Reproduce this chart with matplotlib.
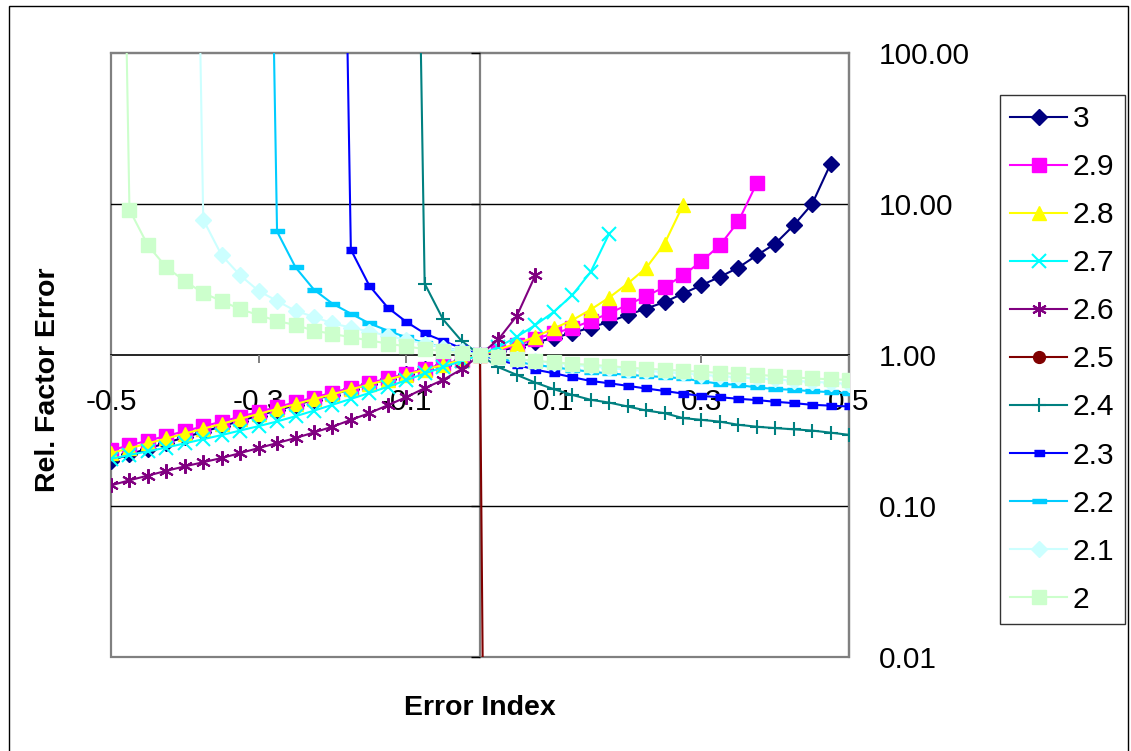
import numpy as np
import matplotlib
matplotlib.use("Agg")
import matplotlib.pyplot as plt
from matplotlib.patches import Rectangle
from matplotlib.ticker import NullLocator, FixedLocator, FixedFormatter

plt.rcParams['font.family'] = ['Liberation Sans', 'DejaVu Sans']

# ---------------- data ----------------
error_index = np.round(np.linspace(-0.5, 0.5, 41), 3)   # x grid, step 0.025
HUGE = 1e8      # off-chart value at the asymptote
TINY = 1e-14    # off-chart value (series 2.5)

series_names = ['3', '2.9', '2.8', '2.7', '2.6', '2.5', '2.4', '2.3', '2.2', '2.1', '2']
# index of first x value for every series
series_start = [0, 0, 0, 0, 0, 20, 16, 12, 8, 4, 0]

v_30 = [0.20, 0.22, 0.24, 0.262, 0.285, 0.31, 0.337, 0.366, 0.397, 0.43, 0.466, 0.505,
        0.547, 0.592, 0.64, 0.69, 0.745, 0.803, 0.865, 0.93, 1.0,
        1.06, 1.13, 1.21, 1.30, 1.40, 1.52, 1.66, 1.84, 2.03, 2.24, 2.55, 2.90, 3.29,
        3.79, 4.57, 5.46, 7.21, 10.0, 18.4]
v_29 = [0.234, 0.252, 0.271, 0.291, 0.313, 0.337, 0.362, 0.39, 0.42, 0.452, 0.486, 0.523,
        0.563, 0.605, 0.651, 0.70, 0.752, 0.808, 0.867, 0.931, 1.0,
        1.07, 1.17, 1.28, 1.39, 1.51, 1.68, 1.89, 2.15, 2.45, 2.82, 3.37, 4.17, 5.32,
        7.66, 13.7]
v_28 = [0.224, 0.241, 0.26, 0.28, 0.302, 0.325, 0.35, 0.378, 0.407, 0.439, 0.473, 0.51,
        0.55, 0.592, 0.638, 0.688, 0.741, 0.799, 0.861, 0.928, 1.0,
        1.09, 1.19, 1.32, 1.5, 1.70, 2.0, 2.40, 2.97, 3.77, 5.46, 9.8]
v_27 = [0.205, 0.218, 0.23, 0.244, 0.26, 0.277, 0.295, 0.316, 0.338, 0.363, 0.393, 0.428,
        0.468, 0.512, 0.56, 0.616, 0.68, 0.755, 0.83, 0.913, 1.0,
        1.13, 1.32, 1.58, 1.93, 2.49, 3.55, 6.36]
v_26 = [0.137, 0.148, 0.159, 0.171, 0.183, 0.195, 0.208, 0.224, 0.242, 0.261, 0.282, 0.307,
        0.335, 0.372, 0.412, 0.465, 0.526, 0.603, 0.684, 0.805, 1.0,
        1.27, 1.82, 3.37]
v_25 = [1.0, TINY]
v_24 = [HUGE, 2.97, 1.72, 1.24, 1.0,
        0.83, 0.738, 0.656, 0.594, 0.544, 0.505, 0.484, 0.456, 0.429, 0.412, 0.382, 0.372,
        0.362, 0.345, 0.335, 0.328, 0.322, 0.316, 0.306, 0.296]
v_23 = [HUGE, 4.99, 2.88, 2.06, 1.66, 1.39, 1.24, 1.11, 1.0,
        0.93, 0.86, 0.80, 0.757, 0.713, 0.673, 0.65, 0.625, 0.60, 0.578, 0.555, 0.536,
        0.525, 0.513, 0.503, 0.49, 0.48, 0.468, 0.462, 0.456]
v_22 = [HUGE, 6.58, 3.81, 2.71, 2.19, 1.88, 1.62, 1.45, 1.31, 1.2, 1.12, 1.06, 1.0,
        0.95, 0.90, 0.86, 0.83, 0.80, 0.775, 0.755, 0.74, 0.725, 0.715, 0.70, 0.67, 0.645,
        0.633, 0.61, 0.595, 0.588, 0.575, 0.568, 0.558]
v_21 = [HUGE, 7.87, 4.57, 3.37, 2.66, 2.28, 1.96, 1.79, 1.62, 1.52, 1.43, 1.34, 1.26, 1.19,
        1.12, 1.06, 1.0,
        0.97, 0.94, 0.91, 0.885, 0.86, 0.84, 0.82, 0.80, 0.785, 0.77, 0.755, 0.74, 0.725,
        0.71, 0.70, 0.69, 0.675, 0.665, 0.655, 0.645]
v_20 = [HUGE, 9.16, 5.32, 3.81, 3.09, 2.57, 2.28, 2.01, 1.84, 1.68, 1.58, 1.45, 1.38, 1.31,
        1.25, 1.19, 1.14, 1.095, 1.06, 1.03, 1.0,
        0.97, 0.94, 0.915, 0.895, 0.875, 0.86, 0.845, 0.825, 0.81, 0.80, 0.785, 0.775, 0.76,
        0.75, 0.74, 0.725, 0.71, 0.70, 0.69, 0.685]
series_values = [v_30, v_29, v_28, v_27, v_26, v_25, v_24, v_23, v_22, v_21, v_20]

y_ticks = [0.01, 0.1, 1, 10, 100]
y_tick_labels = ['0.01', '0.10', '1.00', '10.00', '100.00']
x_ticks = [-0.5, -0.3, -0.1, 0.1, 0.3, 0.5]
x_tick_labels = ['-0.5', '-0.3', '-0.1', '0.1', '0.3', '0.5']

# ---------------- styles ----------------
short_rect = [(-1, -0.55), (1, -0.55), (1, 0.55), (-1, 0.55)]
long_rect = [(-1, -0.33), (1, -0.33), (1, 0.33), (-1, 0.33)]
styles = [
    dict(color='#000080', marker='D', ms=8),
    dict(color='#FF00FF', marker='s', ms=9.5),
    dict(color='#FFFF00', marker='^', ms=10.5),
    dict(color='#00FFFF', marker='x', ms=9.5, mew=1.5),
    dict(color='#800080', marker=(6, 2, 0), ms=10.5, mew=1.5),
    dict(color='#800000', marker='o', ms=8.5),
    dict(color='#008080', marker='+', ms=10.5, mew=1.5),
    dict(color='#0000FF', marker=short_rect, ms=7.5),
    dict(color='#00CCFF', marker=long_rect, ms=10.5),
    dict(color='#CCFFFF', marker='D', ms=8.5),
    dict(color='#CCFFCC', marker='s', ms=10),
]

W, H = 1131, 751
fig = plt.figure(figsize=(W / 100, H / 100), dpi=100)
L, R, T, B = 111, 849, 53, 657
ax = fig.add_axes([L / W, 1 - B / H, (R - L) / W, (B - T) / H])

ax.set_yscale('log')
ax.set_xlim(-0.5, 0.5)
ax.set_ylim(0.01, 100)

lines = []
for name, start, vals, st in zip(series_names, series_start, series_values, styles):
    xs = error_index[start:start + len(vals)]
    ln, = ax.plot(xs, vals, color=st['color'], lw=1.5, marker=st['marker'],
                  ms=st['ms'], mew=st.get('mew', 1.0), mfc=st['color'], mec=st['color'],
                  label=name, clip_on=True)
    lines.append(ln)

# gridlines
for g in [10, 0.1]:
    ax.axhline(g, color='black', lw=1.0, zorder=0.5)

# frame / axes
gray = '#808080'
ax.patch.set_edgecolor(gray)
ax.patch.set_linewidth(1.6)
ax.spines['top'].set_color(gray)
ax.spines['right'].set_color(gray)
ax.spines['top'].set_linewidth(1.6)
ax.spines['right'].set_linewidth(1.6)
ax.spines['left'].set_position(('data', 0))
ax.spines['left'].set_color(gray)
ax.spines['left'].set_linewidth(1.6)
ax.spines['bottom'].set_position(('data', 1))
ax.spines['bottom'].set_color('black')
ax.spines['bottom'].set_linewidth(1.2)
for sp in ax.spines.values():
    sp.set_zorder(0.6)

ax.yaxis.set_major_locator(FixedLocator(y_ticks))
ax.yaxis.set_major_formatter(FixedFormatter(y_tick_labels))
ax.yaxis.set_minor_locator(NullLocator())
ax.xaxis.set_major_locator(FixedLocator(x_ticks))
ax.xaxis.set_major_formatter(FixedFormatter(x_tick_labels))
ax.xaxis.set_minor_locator(NullLocator())

ax.tick_params(axis='y', which='major', left=True, right=False, labelleft=False,
               labelright=True, direction='out', length=6.5, width=1.0, color='black',
               labelsize=21.5, pad=15)
ax.tick_params(axis='x', which='major', bottom=True, top=False, labelbottom=True,
               direction='out', length=6, width=1.4, color=gray, labelsize=21.5, pad=17.5)

fig.text(480 / W, 1 - 708 / H, 'Error Index', ha='center', va='center',
         fontsize=20.5, fontweight='bold')
fig.text(48 / W, 1 - 380 / H, 'Rel. Factor Error', ha='center', va='center',
         fontsize=20.5, fontweight='bold', rotation=90)

leg = fig.legend(handles=lines, loc='upper left', bbox_to_anchor=(1000 / W, 1 - 95 / H),
                 fontsize=21.5, frameon=True, fancybox=False, numpoints=1,
                 handlelength=1.9, handletextpad=0.18, labelspacing=0.67,
                 borderpad=0.35, borderaxespad=0)
leg.get_frame().set_edgecolor('black')
leg.get_frame().set_linewidth(1.0)

# outer chart border
fig.patches.append(Rectangle((9 / W, -0.05), (1128 - 9) / W, 1.05 - 6 / H,
                             transform=fig.transFigure, fill=False, ec='black', lw=1.0))

fig.savefig('out.png', dpi=100)
